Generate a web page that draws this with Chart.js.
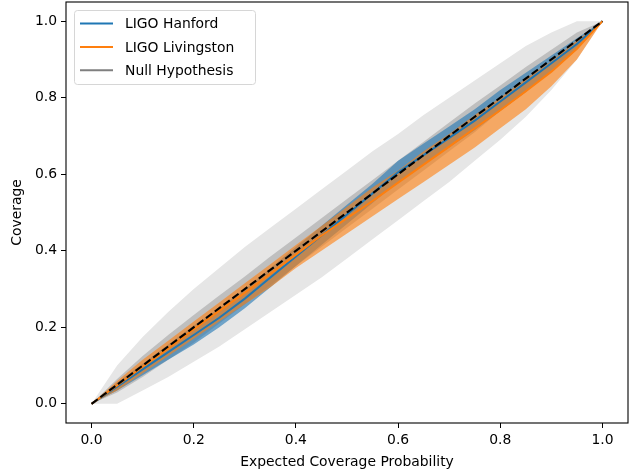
<!DOCTYPE html>
<html>
<head>
<meta charset="utf-8">
<script src="https://cdn.jsdelivr.net/npm/chart.js@4.4.1/dist/chart.umd.min.js"></script>
<style>
  html, body { margin: 0; padding: 0; background: #fff; }
  #wrap { width: 629px; height: 472px; }
</style>
</head>
<body>
<div id="wrap"><canvas id="chart" width="629" height="472"></canvas></div>
<script>
// expected coverage probability (x)
const xValues = [0, 0.05, 0.1, 0.15, 0.2, 0.25, 0.3, 0.35, 0.4, 0.45, 0.5,
  0.55, 0.6, 0.65, 0.7, 0.75, 0.8, 0.85, 0.9, 0.95, 1]

// null hypothesis bands
const nullOuterLow = [0, 0, 0.035, 0.07, 0.11, 0.15, 0.195, 0.24, 0.285, 0.33, 0.38,
  0.43, 0.48, 0.53, 0.58, 0.635, 0.69, 0.75, 0.82, 0.9, 1]
const nullOuterHigh = [0, 0.1, 0.175, 0.24, 0.3, 0.355, 0.41, 0.46, 0.51, 0.56, 0.61,
  0.66, 0.705, 0.755, 0.8, 0.845, 0.89, 0.935, 0.97, 1, 1]
const nullInnerLow = [0, 0.03, 0.07, 0.115, 0.16, 0.21, 0.26, 0.31, 0.36, 0.41, 0.46,
  0.51, 0.56, 0.61, 0.66, 0.71, 0.765, 0.815, 0.87, 0.93, 1]
const nullInnerHigh = [0, 0.065, 0.125, 0.18, 0.232, 0.283, 0.333, 0.385, 0.435, 0.485, 0.535,
  0.585, 0.635, 0.685, 0.735, 0.785, 0.832, 0.88, 0.925, 0.97, 1]

// LIGO Hanford
const hanford = [0, 0.045, 0.09, 0.135, 0.18, 0.225, 0.275, 0.33, 0.385, 0.44, 0.495,
  0.55, 0.605, 0.65, 0.695, 0.74, 0.79, 0.84, 0.89, 0.94, 1]
const hanfordLow = [0, 0.035, 0.075, 0.115, 0.155, 0.2, 0.25, 0.305, 0.36, 0.415, 0.47,
  0.525, 0.58, 0.625, 0.67, 0.715, 0.765, 0.815, 0.87, 0.925, 1]
const hanfordHigh = [0, 0.055, 0.105, 0.155, 0.205, 0.25, 0.3, 0.355, 0.41, 0.465, 0.52,
  0.575, 0.635, 0.68, 0.725, 0.77, 0.82, 0.865, 0.91, 0.955, 1]

// LIGO Livingston
const livingston = [0, 0.048, 0.097, 0.145, 0.195, 0.243, 0.29, 0.34, 0.39, 0.44, 0.485,
  0.53, 0.578, 0.625, 0.672, 0.72, 0.767, 0.817, 0.868, 0.928, 1]
const livingstonLow = [0, 0.035, 0.08, 0.125, 0.17, 0.215, 0.26, 0.305, 0.355, 0.4, 0.445,
  0.49, 0.535, 0.58, 0.625, 0.67, 0.72, 0.77, 0.83, 0.9, 1]
const livingstonHigh = [0, 0.06, 0.115, 0.165, 0.215, 0.265, 0.315, 0.365, 0.415, 0.465, 0.515,
  0.565, 0.61, 0.66, 0.705, 0.755, 0.8, 0.85, 0.895, 0.95, 1]

// dashed diagonal
const diagX = [0, 1]
const diagY = [0, 1]

const tickValues = [0, 0.2, 0.4, 0.6, 0.8, 1.0]
const legendLabels = ["LIGO Hanford", "LIGO Livingston", "Null Hypothesis"]
const legendColors = ["#1f77b4", "#ff7f0e", "#7f7f7f"]

const FONT = { family: "'DejaVu Sans', sans-serif", size: 13.9 }

const pts = (xs, ys) => ys.map((y, i) => ({ x: xs[i], y }))

const band = (low, high, color, order) => [
  {
    data: pts(xValues, low),
    borderWidth: 0,
    pointRadius: 0,
    fill: false,
    order: order + 1,
  },
  {
    data: pts(xValues, high),
    borderWidth: 0,
    pointRadius: 0,
    backgroundColor: color,
    fill: "-1",
    order: order,
  },
]

const framePlugin = {
  id: "frame",
  afterDatasetsDraw(chart) {
    const { ctx, chartArea: a } = chart
    ctx.save()
    ctx.strokeStyle = "#000"
    ctx.lineWidth = 1.1
    ctx.strokeRect(a.left, a.top, a.right - a.left, a.bottom - a.top)
    ctx.restore()
  },
}

const legendPlugin = {
  id: "boxLegend",
  afterDraw(chart) {
    const { ctx, chartArea: a } = chart
    const bx = a.left + 8
    const by = a.top + 8
    const bw = 181
    const bh = 74
    ctx.save()
    ctx.beginPath()
    ctx.roundRect(bx + 0.5, by + 0.5, bw, bh, 3)
    ctx.fillStyle = "rgba(255,255,255,0.8)"
    ctx.fill()
    ctx.strokeStyle = "#d6d6d6"
    ctx.lineWidth = 1
    ctx.stroke()
    ctx.font = `${FONT.size}px ${FONT.family}`
    ctx.textBaseline = "middle"
    legendLabels.forEach((label, i) => {
      const y = by + 13.5 + i * 23.4
      ctx.strokeStyle = legendColors[i]
      ctx.lineWidth = 2
      ctx.beginPath()
      ctx.moveTo(bx + 6, y)
      ctx.lineTo(bx + 39, y)
      ctx.stroke()
      ctx.fillStyle = "#000"
      ctx.fillText(label, bx + 51, y + 1)
    })
    ctx.restore()
  },
}

const axisCommon = {
  type: "linear",
  min: -0.05,
  max: 1.05,
  afterBuildTicks: (scale) => {
    scale.ticks = tickValues.map((v) => ({ value: v }))
  },
  ticks: {
    callback: (v) => Number(v).toFixed(1),
    color: "#000",
    font: FONT,
    autoSkip: false,
    maxRotation: 0,
    padding: 4,
  },
  grid: {
    display: true,
    drawOnChartArea: false,
    drawTicks: true,
    tickLength: 5,
    color: "#000",
    lineWidth: 1,
  },
  border: { display: false },
}

const ctx = document.getElementById("chart").getContext("2d")

new Chart(ctx, {
  type: "line",
  data: {
    datasets: [
      ...band(nullOuterLow, nullOuterHigh, "#e6e6e6", 20),
      ...band(nullInnerLow, nullInnerHigh, "#bfbfbf", 17),
      ...band(hanfordLow, hanfordHigh, "rgba(31,119,180,0.6)", 14),
      ...band(livingstonLow, livingstonHigh, "rgba(255,127,14,0.6)", 11),
      {
        label: legendLabels[0],
        data: pts(xValues, hanford),
        borderColor: "#1f77b4",
        borderWidth: 2,
        pointRadius: 0,
        fill: false,
        order: 3,
      },
      {
        label: legendLabels[1],
        data: pts(xValues, livingston),
        borderColor: "#ff7f0e",
        borderWidth: 2,
        pointRadius: 0,
        fill: false,
        order: 2,
      },
      {
        label: "diagonal",
        data: pts(diagX, diagY),
        borderColor: "#000",
        borderWidth: 2.1,
        borderDash: [7.7, 3.3],
        pointRadius: 0,
        fill: false,
        order: 0,
      },
    ],
  },
  options: {
    responsive: false,
    devicePixelRatio: 1,
    animation: false,
    layout: { padding: { top: 2, right: 1, bottom: 0, left: 0 } },
    elements: { line: { tension: 0 } },
    plugins: {
      legend: { display: false },
      tooltip: { enabled: false },
    },
    scales: {
      x: {
        ...axisCommon,
        title: {
          display: true,
          text: "Expected Coverage Probability",
          color: "#000",
          font: FONT,
          padding: { top: 0, bottom: 1 },
        },
        afterFit: (scale) => {
          scale.height = 49
          scale.paddingLeft = 0
          scale.paddingRight = 0
        },
      },
      y: {
        ...axisCommon,
        title: {
          display: true,
          text: "Coverage",
          color: "#000",
          font: FONT,
          padding: { top: 9, bottom: 0 },
        },
        afterFit: (scale) => {
          scale.width = 66
          scale.paddingTop = 0
          scale.paddingBottom = 0
        },
      },
    },
  },
  plugins: [framePlugin, legendPlugin],
})
</script>
</body>
</html>
